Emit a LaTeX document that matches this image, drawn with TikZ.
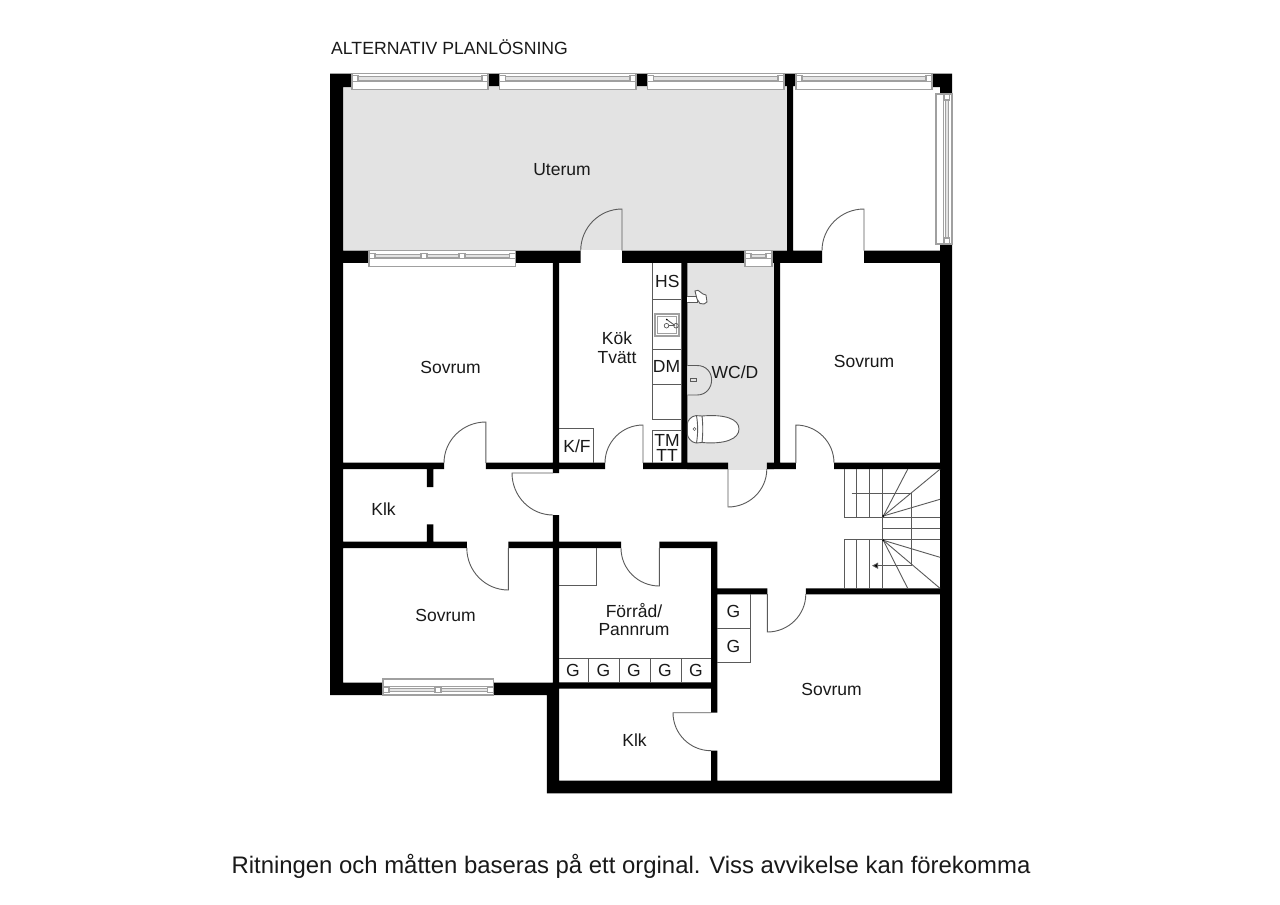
\documentclass[tikz,border=0pt]{standalone}
\usepackage{fontspec}
\setmainfont{Liberation Sans}
\usetikzlibrary{calc,arrows.meta}
\definecolor{floorgrey}{HTML}{E3E3E3}
\definecolor{framegrey}{HTML}{A0A0A0}
\definecolor{thingrey}{HTML}{5A5A5A}
\tikzset{
  wall/.style={fill=black,draw=none},
  floorzone/.style={fill=floorgrey,draw=none},
  doorline/.style={draw=thingrey,line width=0.9pt},
  fitline/.style={draw=thingrey,line width=0.9pt},
  stairline/.style={draw=thingrey,line width=0.9pt},
  frameline/.style={draw=framegrey,line width=1.1pt,fill=white},
  glassbar/.style={draw=framegrey,line width=0.8pt,fill=floorgrey},
  roomlabel/.style={font=\fontsize{17.5}{19}\selectfont,text=black!90,inner sep=0pt,align=center},
  fitlabel/.style={font=\fontsize{17.5}{16}\selectfont,text=black!90,inner sep=0pt,align=center},
}
% hinge, leaf tip, arc end
\newcommand{\doorleaf}[3]{%
  \draw[doorline] (#1) -- (#2) .. controls ($(#2)+0.5523*(#3)-0.5523*(#1)$) and ($(#3)+0.5523*(#2)-0.5523*(#1)$) .. (#3);}
% length, mullion list; local y runs from the outer face inward
\newcommand{\windowunit}[2]{%
  \path[frameline] (0,0) rectangle (#1,16);
  \draw[framegrey,line width=1.1pt] (0,8.2) -- (#1,8.2);
  \path[glassbar] (5,3.2) rectangle ({#1-5},7);
  \path[frameline] (0,2.4) rectangle (6,7.6);
  \path[frameline] ({#1-6},2.4) rectangle (#1,7.6);
  \foreach \m in {#2} {\path[frameline] ({\m-3},2.4) rectangle ({\m+3},7.6);}
}
\begin{document}
\begin{tikzpicture}[x=1pt,y=-1pt]
\useasboundingbox (0,0) rectangle (1280,905);
\fill[white] (0,0) rectangle (1280,905);

% floors
\path[floorzone] (343,86) rectangle (787,249.5);
\path[floorzone] (687,263) rectangle (774,469.5);

% walls
\path[wall]
  (330,73.5) rectangle (343,695)
  (330,73.5) rectangle (352,87)
  (488,73.5) rectangle (499.5,86)
  (636,73.5) rectangle (647.5,86)
  (784,73.5) rectangle (796,86)
  (787,73.5) rectangle (793,252)
  (932,73.5) rectangle (952,87)
  (940,73.5) rectangle (952,94)
  (940,244) rectangle (952,793.3)
  (343,250.7) rectangle (369,262.8)
  (515,250.7) rectangle (580.7,262.8)
  (622,250.7) rectangle (745,262.8)
  (772,250.7) rectangle (822,262.8)
  (864,250.7) rectangle (940,262.8)
  (552.8,262) rectangle (559,473)
  (681.3,262) rectangle (687.3,463)
  (774,262) rectangle (780,463)
  (343,462.7) rectangle (444,469.2)
  (485.8,462.7) rectangle (605,469.2)
  (643,462.7) rectangle (728,469.2)
  (766.8,462.7) rectangle (795.8,469.2)
  (834,462.7) rectangle (940,469.2)
  (426.8,469) rectangle (433.3,487)
  (426.8,524.3) rectangle (433.3,542)
  (343,541.7) rectangle (466.8,548.2)
  (508.3,541.7) rectangle (621,548.2)
  (659.3,541.7) rectangle (717.3,548.2)
  (552.8,515) rectangle (559,688)
  (711,541.7) rectangle (717.3,712.7)
  (711,750.7) rectangle (717.3,781)
  (711,588.3) rectangle (767.3,594.4)
  (805.8,588.3) rectangle (940,594.4)
  (552.8,682.4) rectangle (711,688.7)
  (343,682.7) rectangle (383,695)
  (493.3,682.7) rectangle (559,695)
  (546.8,682.7) rectangle (559,793.3)
  (546.8,780.7) rectangle (952,793.3);

% windows
\begin{scope}[shift={(352,73.5)}]\windowunit{136}{}\end{scope}
\begin{scope}[shift={(499.5,73.5)}]\windowunit{136.5}{}\end{scope}
\begin{scope}[shift={(647.8,73.5)}]\windowunit{136.2}{}\end{scope}
\begin{scope}[shift={(796,73.5)}]\windowunit{136}{}\end{scope}
\begin{scope}[shift={(369,250.7)}]\windowunit{146.5}{55,93}\end{scope}
\begin{scope}[shift={(745,250.7)}]\windowunit{27}{}\end{scope}
\begin{scope}[shift={(383,695)},y={(0pt,1pt)}]\windowunit{110.5}{55}\end{scope}
\begin{scope}[shift={(952,94)},x={(0pt,-1pt)},y={(-1pt,0pt)}]\windowunit{150}{}\end{scope}

% doors
\doorleaf{622,250.7}{622,209}{580.7,250.7}
\doorleaf{864,250.7}{864,209}{822,250.7}
\doorleaf{485.8,463}{485.8,422}{444,463}
\doorleaf{553,473}{512,473}{553,515}
\doorleaf{508.3,548}{508.3,590}{466.8,548}
\doorleaf{643,463}{643,425}{605,463}
\doorleaf{728,469}{728,507}{766.8,469}
\doorleaf{795.8,463}{795.8,425}{834,463}
\doorleaf{659.3,548}{659.3,586}{621,548}
\doorleaf{767.3,594}{767.3,632}{805.8,594}
\doorleaf{711,712.7}{673,712.7}{711,750.7}

% kitchen units
\draw[fitline] (652,263) -- (652,419.3) -- (681.3,419.3);
\draw[fitline] (652,299.3) -- (681.3,299.3);
\draw[fitline] (652,349) -- (681.3,349);
\draw[fitline] (652,384) -- (681.3,384);
\draw[fitline] (681.3,430.8) -- (652,430.8) -- (652,463);
\draw[fitline] (559,428) -- (593.8,428) -- (593.8,463);
% sink
\draw[framegrey,line width=2pt,fill=white] (655,313.6) rectangle (679,336);
\draw[framegrey,line width=0.5pt] (657.6,316) rectangle (676.4,333.5);
\draw[thingrey,line width=0.9pt] (666.7,319.5) -- (675,325.5);
\fill[black] (666.7,319.5) circle (0.9);
\draw[thingrey,line width=0.7pt] (666.5,325.7) circle (2.3);
\draw[thingrey,line width=0.7pt] (676,325.7) circle (2.3);
\draw[thingrey,line width=0.7pt] (668.8,325.7) -- (673.7,325.7);
% tap by the HS unit
\draw[fitline,fill=white] (687.3,296) -- (697,296) -- (697,302) -- (687.3,302);
\draw[fitline,fill=white] (695,291) -- (698,290.3) -- (703,294) -- (706,295) -- (707,302) -- (704,304) -- (700,303.5) -- (697,299) -- cycle;

% WC basin
\draw[fitline,fill=floorgrey] (687.3,365.5) -- (697,365.5) .. controls (706,365.5) and (711.6,372) .. (711.6,380) .. controls (711.6,388) and (706,395) .. (697,395) -- (687.3,395);
\draw[fitline,fill=floorgrey] (690,378.2) rectangle (696,381.4);
% toilet
\draw[fitline,fill=white] (702,416) .. controls (725,414) and (739,419) .. (739,429) .. controls (739,439) and (725,444.5) .. (702,442.5) -- cycle;
\draw[fitline,fill=white] (702,416) -- (696,415.6) .. controls (691,416) and (687.3,421) .. (687.3,424) -- (687.3,434) .. controls (687.3,437) and (691,442.5) .. (696,443) -- (702,442.5) .. controls (703,434) and (703,424) .. (702,416);
\draw[fitline] (696.5,415.8) .. controls (698,424) and (698,434) .. (696.5,443);
\draw[fitline,line width=0.5pt] (694.5,429) circle (1.6);

% stores
\draw[fitline] (559,585.8) -- (596,585.8) -- (596,548);
\draw[fitline] (717.3,662.3) -- (750.3,662.3) -- (750.3,594);
\draw[fitline] (717.3,628.3) -- (750.3,628.3);
\draw[fitline] (559,658) -- (711,658);
\foreach \gx in {588.7,619.7,650.3,681.3} {\draw[fitline] (\gx,658) -- (\gx,682.4);}

% stairs
\foreach \sx in {844,856.7,869.3,882.3} {
  \draw[stairline] (\sx,469.2) -- (\sx,517.3);
  \draw[stairline] (\sx,539.3) -- (\sx,588.3);
}
\draw[stairline] (844,517.3) -- (940,517.3);
\draw[stairline] (844,539.3) -- (940,539.3);
\draw[stairline] (882.3,528.3) -- (940,528.3);
\draw[stairline] (882.3,517.3) -- (882.3,539.3);
\coordinate (stairtop) at (883.3,516);
\coordinate (stairlow) at (883.3,540.3);
\foreach \e in {{907.7,469.2},{940,469.2},{940,499.3}} {\draw[stairline] (stairtop) -- (\e);}
\foreach \e in {{907.7,588.3},{940,588.3},{940,557.3}} {\draw[stairline] (stairlow) -- (\e);}
\fill (stairtop) circle (1.1);
\fill (stairlow) circle (1.1);
\draw[stairline,-{Triangle[length=6pt,width=6pt,fill=black]}] (851.7,493.3) -- (911,493.3) -- (911,565.7) -- (872,565.7);

% labels
\node[roomlabel,anchor=west] (title) at (331,47.5) {\fontsize{17.65}{19}\selectfont ALTERNATIV PLANLÖSNING};
\node[roomlabel] (uterum) at (562,170) {Uterum};
\node[roomlabel] (sov1) at (450.5,367.5) {Sovrum};
\node[roomlabel] (kok) at (617,338.5) {Kök};
\node[roomlabel] (tvatt) at (617,358) {Tvätt};
\node[fitlabel] (hs) at (667.3,281.5) {HS};
\node[fitlabel] (dm) at (666.5,366.5) {DM};
\node[roomlabel] (wcd) at (735,372.5) {WC/D};
\node[roomlabel] (sov2) at (864,361.5) {Sovrum};
\node[fitlabel] (kf) at (577,446.5) {K/F};
\node[fitlabel] (tm) at (667,440.5) {TM};
\node[fitlabel] (tt) at (667,455.5) {TT};
\node[roomlabel] (klk1) at (383.5,509.5) {Klk};
\node[roomlabel] (sov3) at (445.5,615.5) {Sovrum};
\node[roomlabel] (forrad) at (634,611) {Förråd/};
\node[roomlabel] (pannrum) at (634,629.5) {Pannrum};
\node[fitlabel] (g1) at (573,670.5) {G};
\node[fitlabel] (g2) at (603.5,670.5) {G};
\node[fitlabel] (g3) at (634,670.5) {G};
\node[fitlabel] (g4) at (665,670.5) {G};
\node[fitlabel] (g5) at (696,670.5) {G};
\node[fitlabel] (g6) at (733.5,611.5) {G};
\node[fitlabel] (g7) at (733.5,646.5) {G};
\node[roomlabel] (sov4) at (831.5,689.5) {Sovrum};
\node[roomlabel] (klk2) at (634.5,740.5) {Klk};
\node[roomlabel,font=\fontsize{23.9}{26}\selectfont] (note) at (631,866) {Ritningen och måtten baseras på ett orginal. Viss avvikelse kan förekomma};
\end{tikzpicture}
\end{document}
